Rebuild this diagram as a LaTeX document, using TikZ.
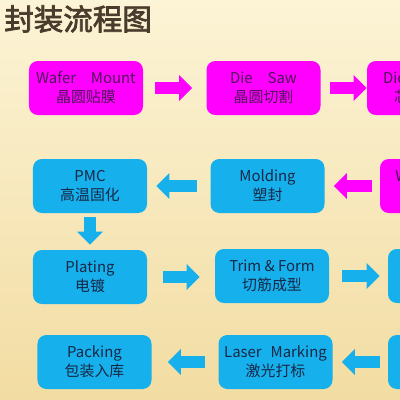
\documentclass[tikz,border=0pt]{standalone}
\usepackage{fontspec}
\setmainfont{Noto Sans CJK SC}
\newfontfamily\titlefont[FakeBold=2.5]{Noto Sans CJK SC}
\usetikzlibrary{arrows.meta}
\definecolor{flowmag}{RGB}{255,0,255}
\definecolor{magtext}{RGB}{78,20,88}
\definecolor{flowblue}{RGB}{22,176,236}
\definecolor{bluetext}{RGB}{22,40,70}
\definecolor{titlebrown}{RGB}{74,60,44}
\definecolor{bgtop}{RGB}{252,244,214}
\definecolor{bgmid}{RGB}{250,237,198}
\definecolor{bgbot}{RGB}{242,220,162}

\begin{document}
\begin{tikzpicture}[x=0.25mm,y=-0.25mm]
\tikzset{>={Triangle[width=6.25mm,length=3.25mm]}}
\tikzstyle{magbox}=[rectangle,rounded corners=2.2mm,fill=flowmag,text=magtext,minimum width=28.5mm,minimum height=13.5mm,align=center,font=\fontsize{10.6}{13.5}\selectfont]
\tikzstyle{bluebox}=[magbox,fill=flowblue,text=bluetext]
\tikzstyle{marrow}=[->,line width=3mm,draw=flowmag]
\tikzstyle{barrow}=[->,line width=3mm,draw=flowblue]

\clip (0,0) rectangle (400,400);
\shade[top color=bgtop,middle color=bgmid,bottom color=bgbot] (0,0) rectangle (400,400);

\node[anchor=west,inner sep=0pt,text=titlebrown,font=\titlefont\fontsize{21}{21}\selectfont](title) at (4,19){封装流程图};

% row 1
\node[magbox](wm) at (86,88){Wafer\quad Mount\\晶圆贴膜};
\node[magbox](ds) at (263.5,88){Die\quad Saw\\晶圆切割};
\node[magbox](da) at (424,88){Die\quad Attach\\芯片粘接};
% row 2
\node[bluebox](pmc) at (90,186){PMC\\高温固化};
\node[bluebox](mold) at (267.5,186){Molding\\塑封};
\node[magbox](wb) at (437,186){Wire\quad Bond\\引线键合};
% row 3
\node[bluebox](plat) at (90,277){Plating\\电镀};
\node[bluebox](tf) at (272,276){Trim \& Form\\切筋成型};
\node[bluebox](rb3) at (445,276){};
% row 4
\node[bluebox](pack) at (94.5,362){Packing\\包装入库};
\node[bluebox](lm) at (275.5,362){Laser\hspace{0.6em}Marking\\激光打标};
\node[bluebox](rb4) at (445,362){};

\draw[marrow,shorten <=3mm,shorten >=3.5mm] (wm) -- (ds);
\draw[marrow,shorten <=2.25mm] (ds) -- (da);
\draw[marrow,shorten <=2mm,shorten >=2.25mm] (wb) -- (mold);
\draw[barrow,shorten <=3.25mm,shorten >=2.25mm] (mold) -- (pmc);
\draw[barrow,shorten <=1mm,shorten >=1.25mm] (pmc) -- (plat);
\draw[barrow,shorten <=4mm,shorten >=3.75mm] (plat.east) -- (plat.east -| tf.west);
\draw[barrow,shorten <=3.25mm,shorten >=2mm] (tf) -- (rb3);
\draw[barrow,shorten <=2mm,shorten >=2.25mm] (rb4) -- (lm);
\draw[barrow,shorten <=3.25mm,shorten >=4mm] (lm) -- (pack);
\end{tikzpicture}
\end{document}
